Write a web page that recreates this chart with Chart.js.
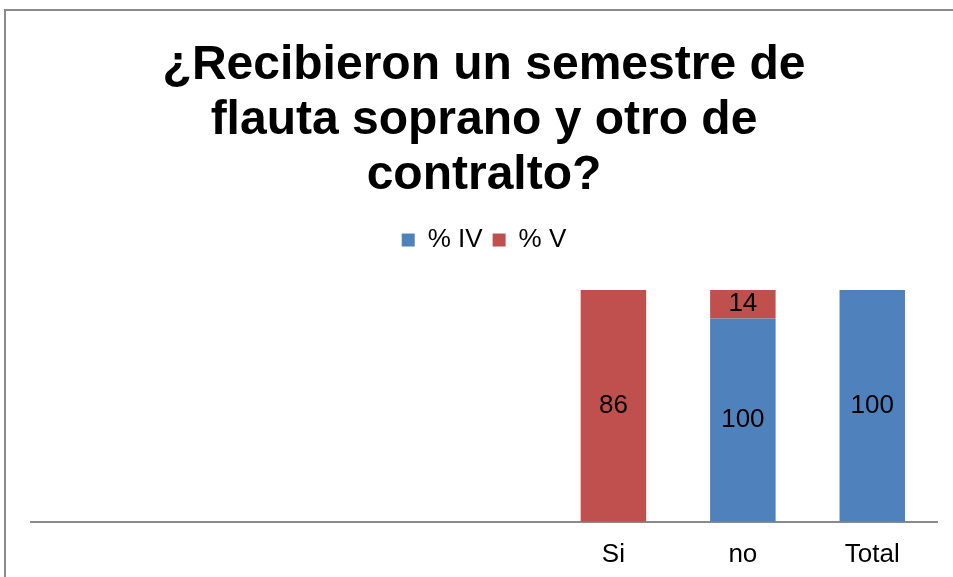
<!DOCTYPE html>
<html>
<head>
<meta charset="utf-8">
<script src="https://cdn.jsdelivr.net/npm/chart.js@4"></script>
<style>
  html, body { margin: 0; padding: 0; background: #fff; overflow: hidden; }
  #frame {
    position: absolute; left: 4px; top: 9px; width: 980px; height: 600px;
    border-left: 2px solid #8a8a8a; border-top: 2px solid #8a8a8a;
  }
  #wrap { position: absolute; left: 6px; top: 11px; width: 958px; height: 576px; }
</style>
</head>
<body>
<div id="frame"></div>
<div id="wrap"><canvas id="Charts"></canvas></div>
<script>
let categories = ['', '', '', '', 'Si', 'no', 'Total']
let iv_values = [null, null, null, null, null, 100, 100]
let v_values = [null, null, null, null, 86, 14, null]
let series_names = ['% IV', '% V']
let title_lines = ['¿Recibieron un semestre de', 'flauta soprano y otro de', 'contralto?']

// 100% stacked: turn raw values into shares of each column
function share(a, b) {
    let out = []
    for (let i = 0; i < a.length; i++) {
        let total = (a[i] || 0) + (b[i] || 0)
        out.push(a[i] == null || total === 0 ? null : a[i] / total * 100)
    }
    return out
}

const FONT = "'Liberation Sans', Arial, sans-serif"

const valueLabels = {
    id: 'valueLabels',
    afterDatasetsDraw(chart) {
        const ctx = chart.ctx
        ctx.save()
        ctx.font = '26px ' + FONT
        ctx.fillStyle = '#000'
        ctx.textAlign = 'center'
        ctx.textBaseline = 'middle'
        chart.data.datasets.forEach((ds, di) => {
            chart.getDatasetMeta(di).data.forEach((bar, i) => {
                let raw = ds.rawValues[i]
                if (raw == null) return
                let p = bar.getProps(['x', 'y', 'base'], true)
                ctx.fillText(String(raw), p.x, (p.y + p.base) / 2)
            })
        })
        ctx.restore()
    }
}

// more room under the legend
const legendGap = {
    id: 'legendGap',
    beforeInit(chart) {
        const fit = chart.legend.fit
        chart.legend.fit = function () {
            fit.call(this)
            this.height += 27
        }
    }
}

const ctx = document.getElementById('Charts')

let chart = new Chart(ctx, {
    type: 'bar',
    data: {
        labels: categories,
        datasets: [{
            label: series_names[0],
            data: share(iv_values, v_values),
            rawValues: iv_values,
            backgroundColor: '#4F81BD',
            borderWidth: 0,
        },
        {
            label: series_names[1],
            data: share(v_values, iv_values),
            rawValues: v_values,
            backgroundColor: '#C0504D',
            borderWidth: 0,
        }]
    },
    options: {
        responsive: true,
        maintainAspectRatio: false,
        animation: false,
        layout: { padding: { top: 17, left: 25, right: 27, bottom: 0 } },
        datasets: { bar: { barPercentage: 1, categoryPercentage: 0.506 } },
        plugins: {
            title: {
                display: true,
                text: title_lines,
                color: '#000',
                font: { family: FONT, size: 48, weight: 'bold', lineHeight: 1.146 },
                padding: { top: 10, bottom: 14 }
            },
            legend: {
                display: true,
                labels: {
                    color: '#000',
                    font: { family: FONT, size: 26 },
                    boxWidth: 13,
                    boxHeight: 13,
                    padding: 10
                }
            },
            tooltip: { enabled: false }
        },
        scales: {
            x: {
                stacked: true,
                grid: { display: false, drawTicks: false },
                border: { display: true, color: '#8a8a8a', width: 2 },
                ticks: { color: '#000', font: { family: FONT, size: 26 }, padding: 17, maxRotation: 0, autoSkip: false }
            },
            y: {
                stacked: true,
                display: false,
                min: 0,
                max: 100
            }
        }
    },
    plugins: [valueLabels, legendGap]
})
</script>
</body>
</html>
